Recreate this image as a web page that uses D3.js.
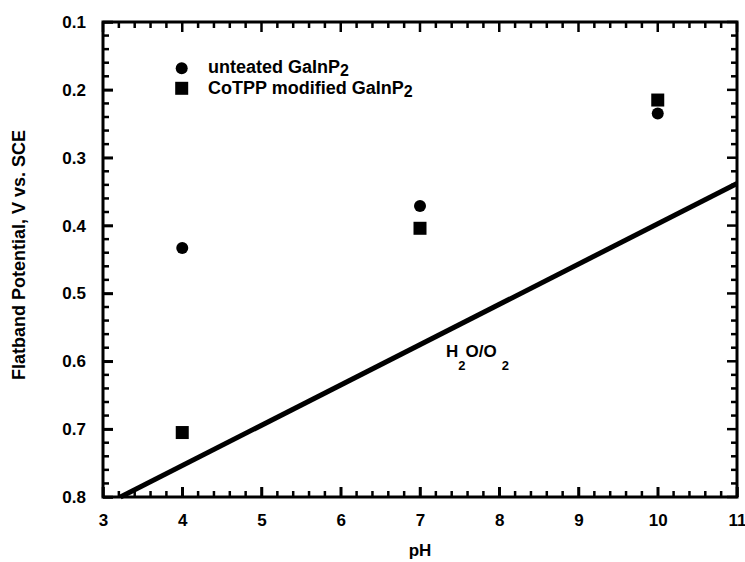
<!DOCTYPE html>
<html>
<head>
<meta charset="utf-8">
<script src="https://cdn.jsdelivr.net/npm/d3@7"></script>
<style>
  body { margin: 0; background: #fff; }
  text { font-family: "Liberation Sans", Arial, Helvetica, sans-serif; font-weight: bold; fill: #000; }
</style>
</head>
<body>
<div id="chart"></div>
<script>
const phValues = [4, 7, 10];
const untreated = [0.433, 0.371, 0.235];
const cotpp = [0.705, 0.404, 0.215];
const waterLine = [[3.22, 0.8], [11, 0.338]];
const xTicks = [3, 4, 5, 6, 7, 8, 9, 10, 11];
const yTicks = [0.1, 0.2, 0.3, 0.4, 0.5, 0.6, 0.7, 0.8];

const width = 745, height = 562;
const margin = { left: 103, right: 8, top: 22, bottom: 65 };

const svg = d3.select("#chart")
  .append("svg")
  .attr("width", width)
  .attr("height", height);

const x = d3.scaleLinear().domain([3, 11]).range([margin.left, width - margin.right]);
const y = d3.scaleLinear().domain([0.1, 0.8]).range([margin.top, height - margin.bottom]);

const [x0, x1] = x.range();
const [y0, y1] = y.range();

// frame
svg.append("rect")
  .attr("x", x0).attr("y", y0)
  .attr("width", x1 - x0)
  .attr("height", y1 - y0)
  .attr("fill", "none").attr("stroke", "#000").attr("stroke-width", 3);

// tick labels (axis generators, inward major ticks)
const bottom = svg.append("g").attr("transform", `translate(0,${y1})`)
  .call(d3.axisBottom(x).tickValues(xTicks).tickSize(-10).tickPadding(17).tickFormat(d3.format("d")));
const left = svg.append("g").attr("transform", `translate(${x0},0)`)
  .call(d3.axisLeft(y).tickValues(yTicks).tickSize(-10).tickPadding(17).tickFormat(d3.format(".1f")));
[bottom, left].forEach((g) => {
  g.select(".domain").remove();
  g.selectAll("line").attr("stroke", "#000").attr("stroke-width", 2.5);
  g.selectAll("text").attr("fill", "#000")
    .style("font-size", "17px").style("font-weight", "bold")
    .style("font-family", '"Liberation Sans", Arial, sans-serif');
});

// remaining ticks: top/right majors and all minors
const isMajor = (v, step) => Math.abs(v / step - Math.round(v / step)) < 1e-6;
const ticks = svg.append("g");
d3.range(3, 11.001, 0.2).forEach((v) => {
  const len = isMajor(v, 1) ? 10 : 6;
  ticks.append("line").attr("x1", x(v)).attr("x2", x(v)).attr("y1", y1).attr("y2", y1 - len)
    .attr("stroke", "#000").attr("stroke-width", 2.5);
  ticks.append("line").attr("x1", x(v)).attr("x2", x(v)).attr("y1", y0).attr("y2", y0 + len)
    .attr("stroke", "#000").attr("stroke-width", 2.5);
});
d3.range(0.1, 0.8001, 0.02).forEach((v) => {
  const len = isMajor(v, 0.1) ? 10 : 6;
  ticks.append("line").attr("y1", y(v)).attr("y2", y(v)).attr("x1", x0).attr("x2", x0 + len)
    .attr("stroke", "#000").attr("stroke-width", 2.5);
  ticks.append("line").attr("y1", y(v)).attr("y2", y(v)).attr("x1", x1).attr("x2", x1 - len)
    .attr("stroke", "#000").attr("stroke-width", 2.5);
});

// axis titles
svg.append("text")
  .attr("x", x(7)).attr("y", 556)
  .attr("text-anchor", "middle").style("font-size", "17px")
  .text("pH");

svg.append("text")
  .attr("transform", `translate(25, 255) rotate(-90)`)
  .attr("text-anchor", "middle").style("font-size", "18px")
  .text("Flatband Potential, V vs. SCE");

// H2O/O2 line
svg.append("path")
  .datum(waterLine)
  .attr("fill", "none").attr("stroke", "#000").attr("stroke-width", 5)
  .attr("d", d3.line().x((d) => x(d[0])).y((d) => y(d[1])));

const lbl = svg.append("text").attr("x", 446).attr("y", 357).style("font-size", "17px");
lbl.append("tspan").text("H");
lbl.append("tspan").attr("dy", 13).style("font-size", "13px").text("2");
lbl.append("tspan").attr("dy", -13).text("O/O");
lbl.append("tspan").attr("dx", 5).attr("dy", 13).style("font-size", "13px").text("2");

// data points
svg.append("g").selectAll("circle").data(phValues).join("circle")
  .attr("cx", (d) => x(d)).attr("cy", (d, i) => y(untreated[i]))
  .attr("r", 6).attr("fill", "#000");

const sq = 13;
svg.append("g").selectAll("rect").data(phValues).join("rect")
  .attr("x", (d) => x(d) - sq / 2).attr("y", (d, i) => y(cotpp[i]) - sq / 2)
  .attr("width", sq).attr("height", sq).attr("fill", "#000");

// legend
const legend = svg.append("g");
legend.append("circle").attr("cx", 181.7).attr("cy", 68.3).attr("r", 6).attr("fill", "#000");
legend.append("rect").attr("x", 181.7 - sq / 2).attr("y", 88.3 - sq / 2)
  .attr("width", sq).attr("height", sq).attr("fill", "#000");

const l1 = legend.append("text").attr("x", 208).attr("y", 73).style("font-size", "18px");
l1.append("tspan").text("unteated GaInP");
l1.append("tspan").attr("dy", 3).style("font-size", "16px").text("2");

const l2 = legend.append("text").attr("x", 208).attr("y", 94).style("font-size", "18px");
l2.append("tspan").text("CoTPP modified GaInP");
l2.append("tspan").attr("dy", 3).style("font-size", "16px").text("2");
</script>
</body>
</html>
